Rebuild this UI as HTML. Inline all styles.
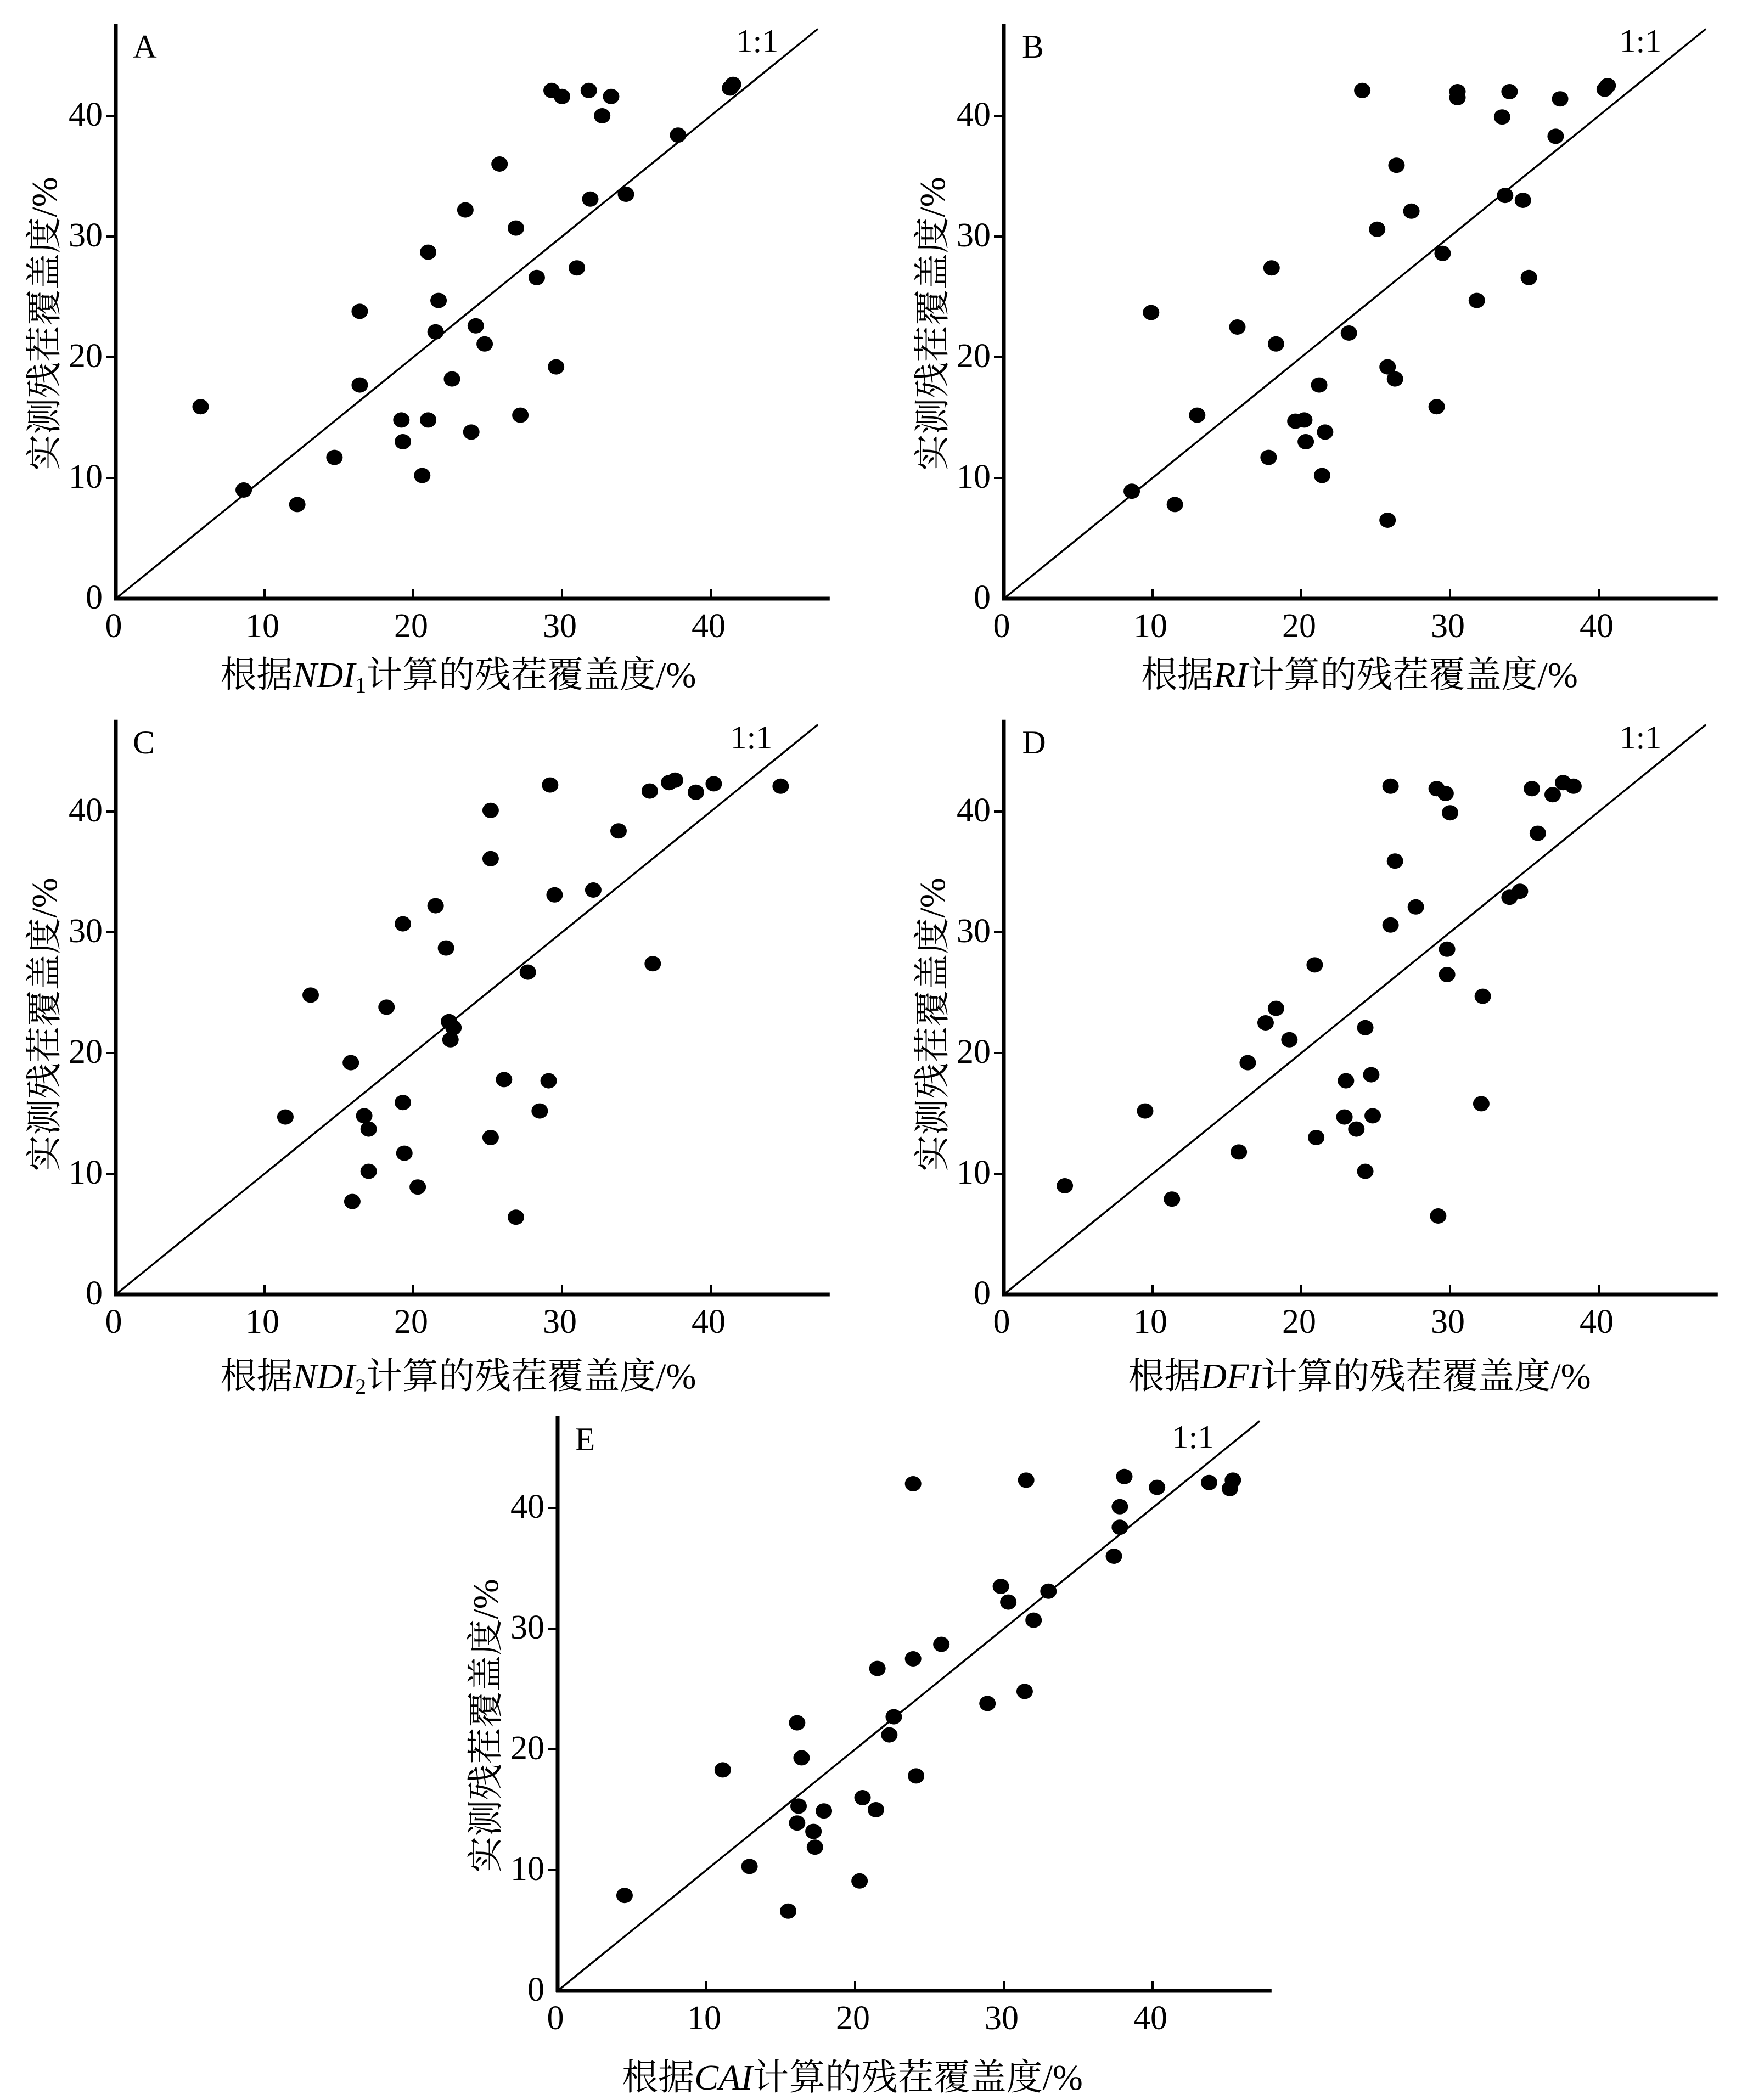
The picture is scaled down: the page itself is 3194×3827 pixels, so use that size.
<!DOCTYPE html>
<html><head><meta charset="utf-8">
<style>
html,body{margin:0;padding:0;background:#fff;}
svg{display:block;}
text{font-family:"Liberation Serif","Noto Serif CJK SC","Noto Sans CJK SC",serif;fill:#000;}
</style></head>
<body>
<svg id="fig" width="3194" height="3827" viewBox="0 0 3194 3827" xmlns="http://www.w3.org/2000/svg"></svg>
<script>
// Panel A (NDI1)
const xA = [5.7,8.6,12.2,14.7,16.4,16.4,19.2,19.3,20.6,21.0,21.0,21.5,21.7,22.6,23.5,23.9,24.2,24.8,25.8,26.9,27.2,28.3,29.3,29.6,30.0,31.0,31.8,31.9,32.7,33.3,34.3,37.8,41.3,41.5];
const yA = [15.9,9.0,7.8,11.7,23.8,17.7,14.8,13.0,10.2,28.7,14.8,22.1,24.7,18.2,32.2,13.8,22.6,21.1,36.0,30.7,15.2,26.6,42.1,19.2,41.6,27.4,42.1,33.1,40.0,41.6,33.5,38.4,42.3,42.6];
// Panel B (RI)
const xB = [8.6,9.9,11.5,13.0,15.7,17.8,18.0,18.3,19.6,20.2,20.3,21.2,21.4,21.6,23.2,24.1,25.1,25.8,25.8,26.3,26.4,27.4,29.1,29.5,30.5,30.5,31.8,33.5,33.7,34.0,34.9,35.3,37.1,37.4,40.4,40.6];
const yB = [8.9,23.7,7.8,15.2,22.5,11.7,27.4,21.1,14.7,14.8,13.0,17.7,10.2,13.8,22.0,42.1,30.6,19.2,6.5,18.2,35.9,32.1,15.9,28.6,42.0,41.5,24.7,39.9,33.4,42.0,33.0,26.6,38.3,41.4,42.2,42.5];
// Panel C (NDI2)
const xC = [11.4,13.1,15.8,15.9,16.7,17.0,17.0,18.2,19.3,19.3,19.4,20.3,21.5,22.2,22.4,22.7,22.5,25.2,25.2,25.2,26.1,26.9,27.7,28.5,29.1,29.2,29.5,32.1,33.8,35.9,36.1,37.2,37.6,39.0,40.2,44.7];
const yC = [14.7,24.8,19.2,7.7,14.8,13.7,10.2,23.8,15.9,30.7,11.7,8.9,32.2,28.7,22.6,22.1,21.1,13.0,36.1,40.1,17.8,6.4,26.7,15.2,17.7,42.2,33.1,33.5,38.4,41.7,27.4,42.4,42.6,41.6,42.3,42.1];
// Panel D (DFI)
const xD = [4.1,9.5,11.3,15.8,16.4,17.6,18.3,19.2,20.9,21.0,22.9,23.0,23.7,24.3,24.3,24.7,24.8,26.0,26.0,26.3,27.7,29.1,29.2,29.7,29.8,29.8,30.0,32.2,32.1,34.0,34.7,35.5,35.9,36.9,37.6,38.3];
const yD = [9.0,15.2,7.9,11.8,19.2,22.5,23.7,21.1,27.3,13.0,14.7,17.7,13.7,22.1,10.2,18.2,14.8,42.1,30.6,35.9,32.1,41.9,6.5,41.5,28.6,26.5,39.9,24.7,15.8,32.9,33.4,41.9,38.2,41.4,42.4,42.1];
// Panel E (CAI)
const xE = [4.5,11.1,12.9,15.5,16.1,16.2,16.1,16.4,17.2,17.3,17.9,20.3,20.5,21.4,21.5,22.3,22.6,23.9,23.9,24.1,25.8,28.9,29.8,30.3,31.4,31.5,32.0,33.0,37.4,37.8,37.8,38.1,40.3,43.8,45.2,45.4];
const yE = [7.9,18.3,10.3,6.6,22.2,15.3,13.9,19.3,13.2,11.9,14.9,9.1,16.0,15.0,26.7,21.2,22.7,42.0,27.5,17.8,28.7,23.8,33.5,32.2,24.8,42.3,30.7,33.1,36.0,38.4,40.1,42.6,41.7,42.1,41.6,42.3];
const xTicks = [0,10,20,30,40];
const yTicks = [0,10,20,30,40];

const NS = "http://www.w3.org/2000/svg";
const svg = document.getElementById('fig');
function mk(tag, attrs, parent){
  const e = document.createElementNS(NS, tag);
  for (const k in attrs) e.setAttribute(k, attrs[k]);
  (parent||svg).appendChild(e);
  return e;
}
const SX = 27.1, SY = 22.0;
const panels = [
  {id:'a', letter:'A', ox:211, oy:1091, xs:xA, ys:yA, idx:'NDI', sub:'1', lx:[264,83], rx:[1380,73], xt:[835,1230], yt:[81,590]},
  {id:'b', letter:'B', ox:1829, oy:1091, xs:xB, ys:yB, idx:'RI', sub:'', lx:[1882,83], rx:[2989,73], xt:[2477,1230], yt:[1699,590]},
  {id:'c', letter:'C', ox:211, oy:2359, xs:xC, ys:yC, idx:'NDI', sub:'2', lx:[262,1351], rx:[1369,1342], xt:[835,2508], yt:[81,1867]},
  {id:'d', letter:'D', ox:1829, oy:2359, xs:xD, ys:yD, idx:'DFI', sub:'', lx:[1884,1351], rx:[2989,1342], xt:[2477,2508], yt:[1699,1867]},
  {id:'e', letter:'E', ox:1016, oy:3628, xs:xE, ys:yE, idx:'CAI', sub:'', lx:[1066,2621], rx:[2174,2617], xt:[1553,3786], yt:[885,3145]}
];
panels.forEach(p => {
  const X = v => p.ox + v*SX;
  const Y = v => p.oy - v*SY;
  const g = mk('g', {});
  
  
  const ln = mk('line', {x1:X(0), y1:Y(0), x2:X(47.2), y2:Y(47.2), stroke:'#000','stroke-width':3.5}, g);
  
  
  const xa = mk('line', {x1:p.ox-3, y1:p.oy, x2:X(48), y2:p.oy, stroke:'#000','stroke-width':7}, g);
  
  
  const ya = mk('line', {x1:p.ox, y1:p.oy+3, x2:p.ox, y2:Y(47.6), stroke:'#000','stroke-width':7}, g);
  
  
  xTicks.forEach(t => {
    if (t > 0) {
      const tk = mk('line', {x1:X(t), y1:p.oy, x2:X(t), y2:p.oy-18, stroke:'#000','stroke-width':4}, g);
      
      
    }
    const tl = mk('text', {x:X(t)-4, y:p.oy+70, 'font-size':62, 'text-anchor':'middle'}, g);
    tl.textContent = String(t);
    
    
  });
  yTicks.forEach(t => {
    if (t > 0) {
      const tk = mk('line', {x1:p.ox, y1:Y(t), x2:p.ox-18, y2:Y(t), stroke:'#000','stroke-width':4}, g);
      
      
    }
    const tl = mk('text', {x:p.ox-24, y:Y(t)+18, 'font-size':62, 'text-anchor':'end'}, g);
    tl.textContent = String(t);
    
    
  });
  p.xs.forEach((v, i) => {
    const c = mk('ellipse', {cx:X(v), cy:Y(p.ys[i]), rx:15, ry:14, fill:'#000'}, g);
    
    
  });
  const lt = mk('text', {x:p.lx[0], y:p.lx[1]+22, 'font-size':60, 'text-anchor':'middle'}, g);
  lt.textContent = p.letter;
  
  
  const r = mk('text', {x:p.rx[0], y:p.rx[1]+22, 'font-size':60, 'text-anchor':'middle'}, g);
  r.textContent = '1:1';
  
  
  const xt = mk('text', {x:p.xt[0], y:p.xt[1]+22, 'font-size':66, 'text-anchor':'middle'}, g);
  
  
  const t1 = mk('tspan', {}, xt); t1.textContent = '根据';
  const t2 = mk('tspan', {'font-style':'italic'}, xt); t2.textContent = p.idx;
  if (p.sub) { const t3 = mk('tspan', {'font-size':40, dy:10}, xt); t3.textContent = p.sub; }
  const t4 = mk('tspan', p.sub ? {dy:-10} : {}, xt); t4.textContent = '计算的残茬覆盖度/%';
  const yt = mk('text', {x:0, y:0, 'font-size':66, 'text-anchor':'middle', transform:'translate(' + (p.yt[0]+22) + ',' + p.yt[1] + ') rotate(-90)'}, g);
  yt.textContent = '实测残茬覆盖度/%';
  
  
});
</script>
</body></html>
